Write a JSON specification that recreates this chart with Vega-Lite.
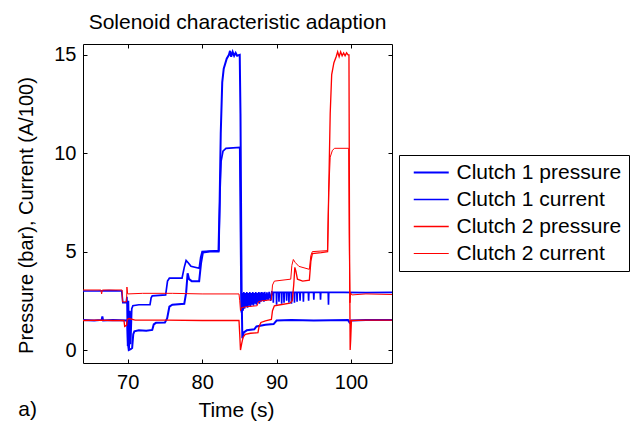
{
  "$schema": "https://vega.github.io/schema/vega-lite/v6.json",
  "autosize": {"type": "none"},
  "padding": {"left": 83, "top": 44, "right": 238, "bottom": 59},
  "width": 309,
  "height": 319,
  "background": "white",
  "title": {"text": "Solenoid characteristic adaption", "fontSize": 21, "fontWeight": "normal", "font": "Liberation Sans", "color": "black", "anchor": "middle", "baseline": "alphabetic", "offset": -6},
  "config": {
    "font": "Liberation Sans",
    "view": {"stroke": null},
    "axis": {"domainColor": "black", "tickColor": "black", "labelColor": "black", "titleColor": "black", "grid": false, "tickSize": -4, "domainWidth": 1, "tickWidth": 1, "labelFontSize": 20, "titleFontSize": 20, "titleFontWeight": "normal", "labelFont": "Liberation Sans", "titleFont": "Liberation Sans"},
    "legend": {"orient": "none", "legendX": 316, "legendY": 111, "strokeColor": "black", "strokeWidth": 1, "fillColor": "white", "padding": 7, "symbolType": "M-2,0H2", "symbolSize": 306, "symbolOffset": 14.75, "labelOffset": 14.75, "labelFontSize": 21, "labelFont": "Liberation Sans", "labelColor": "black", "rowPadding": 5, "labelLimit": 0, "cornerRadius": 0}
  },
  "layer": [
    {
      "data": {"values": [
        {"s":"Clutch 1 pressure","t":64,"v":1.52},{"s":"Clutch 1 pressure","t":65.5,"v":1.5},{"s":"Clutch 1 pressure","t":66.5,"v":1.53},{"s":"Clutch 1 pressure","t":66.6,"v":1.7},{"s":"Clutch 1 pressure","t":66.7,"v":1.5},{"s":"Clutch 1 pressure","t":68,"v":1.52},{"s":"Clutch 1 pressure","t":69.95,"v":1.5},{"s":"Clutch 1 pressure","t":70.05,"v":0.3},{"s":"Clutch 1 pressure","t":70.15,"v":0},{"s":"Clutch 1 pressure","t":70.4,"v":0.05},{"s":"Clutch 1 pressure","t":70.6,"v":0.1},{"s":"Clutch 1 pressure","t":70.75,"v":0.8},{"s":"Clutch 1 pressure","t":70.9,"v":0.95},{"s":"Clutch 1 pressure","t":71.5,"v":1.0},{"s":"Clutch 1 pressure","t":72.5,"v":0.98},{"s":"Clutch 1 pressure","t":73.3,"v":1.02},{"s":"Clutch 1 pressure","t":73.5,"v":1.3},{"s":"Clutch 1 pressure","t":73.8,"v":1.38},{"s":"Clutch 1 pressure","t":75.0,"v":1.4},{"s":"Clutch 1 pressure","t":75.3,"v":1.6},{"s":"Clutch 1 pressure","t":75.6,"v":2.2},{"s":"Clutch 1 pressure","t":76.0,"v":2.3},{"s":"Clutch 1 pressure","t":77.6,"v":2.35},{"s":"Clutch 1 pressure","t":77.85,"v":2.9},{"s":"Clutch 1 pressure","t":78.05,"v":3.9},{"s":"Clutch 1 pressure","t":78.25,"v":3.6},{"s":"Clutch 1 pressure","t":78.6,"v":3.5},{"s":"Clutch 1 pressure","t":79.6,"v":3.5},{"s":"Clutch 1 pressure","t":79.85,"v":4.4},{"s":"Clutch 1 pressure","t":80.1,"v":4.95},{"s":"Clutch 1 pressure","t":81,"v":5.0},{"s":"Clutch 1 pressure","t":82.2,"v":5.0},{"s":"Clutch 1 pressure","t":82.35,"v":7.5},{"s":"Clutch 1 pressure","t":82.5,"v":11},{"s":"Clutch 1 pressure","t":82.7,"v":13.6},{"s":"Clutch 1 pressure","t":82.9,"v":14.3},{"s":"Clutch 1 pressure","t":83.3,"v":14.8},{"s":"Clutch 1 pressure","t":83.6,"v":15.0},{"s":"Clutch 1 pressure","t":83.75,"v":15.2},{"s":"Clutch 1 pressure","t":83.9,"v":14.9},{"s":"Clutch 1 pressure","t":84.1,"v":15.15},{"s":"Clutch 1 pressure","t":84.3,"v":14.95},{"s":"Clutch 1 pressure","t":84.5,"v":15.1},{"s":"Clutch 1 pressure","t":84.7,"v":14.95},{"s":"Clutch 1 pressure","t":85.05,"v":15.0},{"s":"Clutch 1 pressure","t":85.15,"v":12.0},{"s":"Clutch 1 pressure","t":85.3,"v":3.0},{"s":"Clutch 1 pressure","t":85.4,"v":0.6},{"s":"Clutch 1 pressure","t":85.6,"v":0.9},{"s":"Clutch 1 pressure","t":86,"v":1.0},{"s":"Clutch 1 pressure","t":87,"v":1.05},{"s":"Clutch 1 pressure","t":87.3,"v":1.2},{"s":"Clutch 1 pressure","t":88.5,"v":1.28},{"s":"Clutch 1 pressure","t":89.6,"v":1.32},{"s":"Clutch 1 pressure","t":90,"v":1.5},{"s":"Clutch 1 pressure","t":92,"v":1.52},{"s":"Clutch 1 pressure","t":95,"v":1.5},{"s":"Clutch 1 pressure","t":99.6,"v":1.52},{"s":"Clutch 1 pressure","t":99.8,"v":1.4},{"s":"Clutch 1 pressure","t":100,"v":1.5},{"s":"Clutch 1 pressure","t":102,"v":1.52},{"s":"Clutch 1 pressure","t":105.5,"v":1.52},

        {"s":"Clutch 1 current","t":64,"v":3.0},{"s":"Clutch 1 current","t":66,"v":3.0},{"s":"Clutch 1 current","t":67.5,"v":3.02},{"s":"Clutch 1 current","t":69.2,"v":3.0},{"s":"Clutch 1 current","t":69.35,"v":2.4},{"s":"Clutch 1 current","t":69.8,"v":2.4},{"s":"Clutch 1 current","t":69.9,"v":2.7},{"s":"Clutch 1 current","t":70.0,"v":0.2},{"s":"Clutch 1 current","t":70.1,"v":2.5},{"s":"Clutch 1 current","t":70.2,"v":0.1},{"s":"Clutch 1 current","t":70.3,"v":2.0},{"s":"Clutch 1 current","t":70.4,"v":0.3},{"s":"Clutch 1 current","t":70.55,"v":2.1},{"s":"Clutch 1 current","t":70.7,"v":2.25},{"s":"Clutch 1 current","t":71.5,"v":2.3},{"s":"Clutch 1 current","t":73.0,"v":2.3},{"s":"Clutch 1 current","t":73.15,"v":2.65},{"s":"Clutch 1 current","t":73.3,"v":2.75},{"s":"Clutch 1 current","t":75.1,"v":2.8},{"s":"Clutch 1 current","t":75.35,"v":3.5},{"s":"Clutch 1 current","t":75.6,"v":3.65},{"s":"Clutch 1 current","t":77.3,"v":3.65},{"s":"Clutch 1 current","t":77.6,"v":4.2},{"s":"Clutch 1 current","t":77.85,"v":4.55},{"s":"Clutch 1 current","t":78.1,"v":4.45},{"s":"Clutch 1 current","t":78.5,"v":4.25},{"s":"Clutch 1 current","t":79.6,"v":4.15},{"s":"Clutch 1 current","t":79.8,"v":4.7},{"s":"Clutch 1 current","t":80.0,"v":5.0},{"s":"Clutch 1 current","t":82.25,"v":5.05},{"s":"Clutch 1 current","t":82.4,"v":8.0},{"s":"Clutch 1 current","t":82.55,"v":9.6},{"s":"Clutch 1 current","t":82.8,"v":10.1},{"s":"Clutch 1 current","t":83.2,"v":10.25},{"s":"Clutch 1 current","t":85.05,"v":10.3},{"s":"Clutch 1 current","t":85.15,"v":6.0},{"s":"Clutch 1 current","t":85.25,"v":2.0},
        {"s":"Clutch 1 current","t":85.3,"v":1.9},{"s":"Clutch 1 current","t":85.4,"v":2.9},{"s":"Clutch 1 current","t":85.5,"v":2.0},{"s":"Clutch 1 current","t":85.6,"v":2.95},{"s":"Clutch 1 current","t":85.7,"v":2.1},{"s":"Clutch 1 current","t":85.8,"v":2.9},{"s":"Clutch 1 current","t":85.9,"v":2.2},{"s":"Clutch 1 current","t":86.0,"v":2.95},{"s":"Clutch 1 current","t":86.1,"v":2.15},{"s":"Clutch 1 current","t":86.2,"v":2.9},{"s":"Clutch 1 current","t":86.3,"v":2.25},{"s":"Clutch 1 current","t":86.4,"v":2.95},{"s":"Clutch 1 current","t":86.5,"v":2.2},{"s":"Clutch 1 current","t":86.6,"v":2.9},{"s":"Clutch 1 current","t":86.7,"v":2.3},{"s":"Clutch 1 current","t":86.8,"v":2.95},{"s":"Clutch 1 current","t":86.9,"v":2.25},{"s":"Clutch 1 current","t":87.0,"v":2.9},{"s":"Clutch 1 current","t":87.1,"v":2.35},{"s":"Clutch 1 current","t":87.2,"v":2.95},{"s":"Clutch 1 current","t":87.3,"v":2.3},{"s":"Clutch 1 current","t":87.4,"v":2.9},{"s":"Clutch 1 current","t":87.5,"v":2.4},{"s":"Clutch 1 current","t":87.6,"v":2.95},{"s":"Clutch 1 current","t":87.7,"v":2.35},{"s":"Clutch 1 current","t":87.8,"v":2.92},{"s":"Clutch 1 current","t":87.9,"v":2.45},{"s":"Clutch 1 current","t":88.0,"v":2.95},{"s":"Clutch 1 current","t":88.1,"v":2.5},{"s":"Clutch 1 current","t":88.2,"v":2.92},{"s":"Clutch 1 current","t":88.3,"v":2.45},{"s":"Clutch 1 current","t":88.4,"v":2.95},{"s":"Clutch 1 current","t":88.55,"v":2.5},{"s":"Clutch 1 current","t":88.7,"v":2.93},{"s":"Clutch 1 current","t":88.85,"v":2.55},{"s":"Clutch 1 current","t":89.0,"v":2.95},{"s":"Clutch 1 current","t":89.2,"v":2.5},{"s":"Clutch 1 current","t":89.35,"v":2.95},
        {"s":"Clutch 1 current","t":89.52,"v":2.93},{"s":"Clutch 1 current","t":89.56,"v":2.4},{"s":"Clutch 1 current","t":89.6,"v":2.93},
        {"s":"Clutch 1 current","t":89.96,"v":2.93},{"s":"Clutch 1 current","t":90.0,"v":2.3},{"s":"Clutch 1 current","t":90.04,"v":2.93},
        {"s":"Clutch 1 current","t":90.28,"v":2.93},{"s":"Clutch 1 current","t":90.32,"v":2.45},{"s":"Clutch 1 current","t":90.36,"v":2.93},
        {"s":"Clutch 1 current","t":90.64,"v":2.93},{"s":"Clutch 1 current","t":90.68,"v":2.35},{"s":"Clutch 1 current","t":90.72,"v":2.93},
        {"s":"Clutch 1 current","t":90.96,"v":2.93},{"s":"Clutch 1 current","t":91.0,"v":2.4},{"s":"Clutch 1 current","t":91.04,"v":2.93},
        {"s":"Clutch 1 current","t":91.31,"v":2.93},{"s":"Clutch 1 current","t":91.35,"v":2.5},{"s":"Clutch 1 current","t":91.39,"v":2.93},
        {"s":"Clutch 1 current","t":91.62,"v":2.93},{"s":"Clutch 1 current","t":91.66,"v":2.4},{"s":"Clutch 1 current","t":91.7,"v":2.93},
        {"s":"Clutch 1 current","t":91.96,"v":2.93},{"s":"Clutch 1 current","t":92.0,"v":2.35},{"s":"Clutch 1 current","t":92.04,"v":2.93},
        {"s":"Clutch 1 current","t":92.36,"v":2.93},{"s":"Clutch 1 current","t":92.4,"v":2.4},{"s":"Clutch 1 current","t":92.44,"v":2.93},
        {"s":"Clutch 1 current","t":92.71,"v":2.93},{"s":"Clutch 1 current","t":92.75,"v":2.45},{"s":"Clutch 1 current","t":92.79,"v":2.93},
        {"s":"Clutch 1 current","t":93.11,"v":2.93},{"s":"Clutch 1 current","t":93.15,"v":2.5},{"s":"Clutch 1 current","t":93.19,"v":2.93},
        {"s":"Clutch 1 current","t":93.56,"v":2.93},{"s":"Clutch 1 current","t":93.6,"v":2.45},{"s":"Clutch 1 current","t":93.64,"v":2.93},
        {"s":"Clutch 1 current","t":94.26,"v":2.93},{"s":"Clutch 1 current","t":94.3,"v":2.5},{"s":"Clutch 1 current","t":94.34,"v":2.93},
        {"s":"Clutch 1 current","t":94.96,"v":2.93},{"s":"Clutch 1 current","t":95.0,"v":2.55},{"s":"Clutch 1 current","t":95.04,"v":2.93},
        {"s":"Clutch 1 current","t":95.86,"v":2.93},{"s":"Clutch 1 current","t":95.9,"v":2.55},{"s":"Clutch 1 current","t":95.94,"v":2.93},
        {"s":"Clutch 1 current","t":96.93,"v":2.93},{"s":"Clutch 1 current","t":96.97,"v":2.3},{"s":"Clutch 1 current","t":97.01,"v":2.93},
        {"s":"Clutch 1 current","t":99,"v":2.93},{"s":"Clutch 1 current","t":102,"v":2.92},{"s":"Clutch 1 current","t":105.5,"v":2.93},

        {"s":"Clutch 2 pressure","t":64,"v":1.5},{"s":"Clutch 2 pressure","t":66,"v":1.52},{"s":"Clutch 2 pressure","t":68,"v":1.5},{"s":"Clutch 2 pressure","t":69.5,"v":1.5},{"s":"Clutch 2 pressure","t":69.6,"v":1.2},{"s":"Clutch 2 pressure","t":69.85,"v":1.25},{"s":"Clutch 2 pressure","t":69.95,"v":1.55},{"s":"Clutch 2 pressure","t":70.2,"v":1.6},{"s":"Clutch 2 pressure","t":71,"v":1.52},{"s":"Clutch 2 pressure","t":75,"v":1.52},{"s":"Clutch 2 pressure","t":80,"v":1.5},{"s":"Clutch 2 pressure","t":84.95,"v":1.5},{"s":"Clutch 2 pressure","t":85.05,"v":0.8},{"s":"Clutch 2 pressure","t":85.15,"v":0},{"s":"Clutch 2 pressure","t":85.3,"v":0.3},{"s":"Clutch 2 pressure","t":85.5,"v":0.65},{"s":"Clutch 2 pressure","t":85.8,"v":0.8},{"s":"Clutch 2 pressure","t":86.5,"v":0.85},{"s":"Clutch 2 pressure","t":87.5,"v":0.88},{"s":"Clutch 2 pressure","t":87.65,"v":1.2},{"s":"Clutch 2 pressure","t":87.9,"v":1.4},{"s":"Clutch 2 pressure","t":88.5,"v":1.48},{"s":"Clutch 2 pressure","t":89.3,"v":1.55},{"s":"Clutch 2 pressure","t":89.45,"v":2.0},{"s":"Clutch 2 pressure","t":89.7,"v":2.25},{"s":"Clutch 2 pressure","t":90.5,"v":2.3},{"s":"Clutch 2 pressure","t":91.8,"v":2.38},{"s":"Clutch 2 pressure","t":92.1,"v":2.5},{"s":"Clutch 2 pressure","t":92.3,"v":3.3},{"s":"Clutch 2 pressure","t":92.45,"v":4.2},{"s":"Clutch 2 pressure","t":92.6,"v":4.0},{"s":"Clutch 2 pressure","t":92.8,"v":3.6},{"s":"Clutch 2 pressure","t":93.5,"v":3.5},{"s":"Clutch 2 pressure","t":94.4,"v":3.55},{"s":"Clutch 2 pressure","t":94.6,"v":4.5},{"s":"Clutch 2 pressure","t":94.8,"v":4.9},{"s":"Clutch 2 pressure","t":96,"v":4.95},{"s":"Clutch 2 pressure","t":96.85,"v":5.0},{"s":"Clutch 2 pressure","t":97.0,"v":8.0},{"s":"Clutch 2 pressure","t":97.2,"v":12.0},{"s":"Clutch 2 pressure","t":97.4,"v":14.0},{"s":"Clutch 2 pressure","t":97.7,"v":14.6},{"s":"Clutch 2 pressure","t":98.0,"v":14.9},{"s":"Clutch 2 pressure","t":98.2,"v":15.15},{"s":"Clutch 2 pressure","t":98.4,"v":14.9},{"s":"Clutch 2 pressure","t":98.6,"v":15.15},{"s":"Clutch 2 pressure","t":98.8,"v":14.95},{"s":"Clutch 2 pressure","t":99.0,"v":15.1},{"s":"Clutch 2 pressure","t":99.2,"v":14.95},{"s":"Clutch 2 pressure","t":99.4,"v":15.1},{"s":"Clutch 2 pressure","t":99.6,"v":15.0},{"s":"Clutch 2 pressure","t":99.72,"v":15.0},{"s":"Clutch 2 pressure","t":99.8,"v":5.0},{"s":"Clutch 2 pressure","t":99.88,"v":0},{"s":"Clutch 2 pressure","t":99.95,"v":0.5},{"s":"Clutch 2 pressure","t":100.05,"v":1.5},{"s":"Clutch 2 pressure","t":102,"v":1.52},{"s":"Clutch 2 pressure","t":105.5,"v":1.52},

        {"s":"Clutch 2 current","t":64,"v":3.05},{"s":"Clutch 2 current","t":66.4,"v":3.05},{"s":"Clutch 2 current","t":66.5,"v":2.85},{"s":"Clutch 2 current","t":66.6,"v":3.05},{"s":"Clutch 2 current","t":69.25,"v":3.05},{"s":"Clutch 2 current","t":69.3,"v":2.45},{"s":"Clutch 2 current","t":69.85,"v":2.45},{"s":"Clutch 2 current","t":69.9,"v":3.2},{"s":"Clutch 2 current","t":70.0,"v":2.85},{"s":"Clutch 2 current","t":72,"v":2.88},{"s":"Clutch 2 current","t":76,"v":2.88},{"s":"Clutch 2 current","t":80,"v":2.85},{"s":"Clutch 2 current","t":84.95,"v":2.85},{"s":"Clutch 2 current","t":85.05,"v":2.5},{"s":"Clutch 2 current","t":85.15,"v":2.0},{"s":"Clutch 2 current","t":85.3,"v":2.15},{"s":"Clutch 2 current","t":86,"v":2.2},{"s":"Clutch 2 current","t":87.4,"v":2.25},{"s":"Clutch 2 current","t":87.55,"v":2.45},{"s":"Clutch 2 current","t":88,"v":2.5},{"s":"Clutch 2 current","t":89.3,"v":2.55},{"s":"Clutch 2 current","t":89.45,"v":3.3},{"s":"Clutch 2 current","t":89.7,"v":3.5},{"s":"Clutch 2 current","t":91.9,"v":3.6},{"s":"Clutch 2 current","t":92.05,"v":4.3},{"s":"Clutch 2 current","t":92.25,"v":4.6},{"s":"Clutch 2 current","t":92.5,"v":4.45},{"s":"Clutch 2 current","t":93,"v":4.25},{"s":"Clutch 2 current","t":94.4,"v":4.1},{"s":"Clutch 2 current","t":94.6,"v":4.8},{"s":"Clutch 2 current","t":94.8,"v":5.0},{"s":"Clutch 2 current","t":96.85,"v":5.05},{"s":"Clutch 2 current","t":97.0,"v":8.0},{"s":"Clutch 2 current","t":97.2,"v":9.8},{"s":"Clutch 2 current","t":97.5,"v":10.15},{"s":"Clutch 2 current","t":97.8,"v":10.25},{"s":"Clutch 2 current","t":99.68,"v":10.25},{"s":"Clutch 2 current","t":99.75,"v":6.0},{"s":"Clutch 2 current","t":99.85,"v":2.4},{"s":"Clutch 2 current","t":99.95,"v":2.9},{"s":"Clutch 2 current","t":100.1,"v":2.8},{"s":"Clutch 2 current","t":102,"v":2.85},{"s":"Clutch 2 current","t":105.5,"v":2.82}
      ]},
      "mark": {"type": "line", "clip": true},
      "encoding": {
        "x": {"field": "t", "type": "quantitative", "scale": {"domain": [64, 105.5], "nice": false, "zero": false},
              "axis": {"orient": "bottom", "values": [70, 80, 90, 100], "labelPadding": 13, "title": "Time (s)", "titleX": 153, "titleY": 53, "titleBaseline": "alphabetic", "titleAlign": "center", "titleFontSize": 21}},
        "y": {"field": "v", "type": "quantitative", "scale": {"domain": [-0.66, 15.55], "nice": false, "zero": false},
              "axis": {"orient": "left", "values": [0, 5, 10, 15], "labelPadding": 11, "title": "Pressure (bar), Current (A/100)", "titleX": -51, "titleY": 171, "titleBaseline": "alphabetic", "titleAlign": "center", "titleAngle": -90}},
        "color": {"field": "s", "type": "nominal", "title": null,
                  "scale": {"domain": ["Clutch 1 pressure", "Clutch 1 current", "Clutch 2 pressure", "Clutch 2 current"], "range": ["#0000ff", "#0000ff", "#ff0000", "#ff0000"]},
                  "sort": ["Clutch 1 pressure", "Clutch 1 current", "Clutch 2 pressure", "Clutch 2 current"]},
        "strokeWidth": {"field": "s", "type": "nominal", "title": null,
                  "scale": {"domain": ["Clutch 1 pressure", "Clutch 1 current", "Clutch 2 pressure", "Clutch 2 current"], "range": [2, 1, 2, 1]}},
        "order": {"field": "t", "type": "quantitative"}
      }
    },
    {
      "data": {"values": [{"t": 64, "v": 0}]},
      "mark": {"type": "point", "opacity": 0},
      "encoding": {
        "x": {"field": "t", "type": "quantitative", "scale": {"domain": [64, 105.5], "nice": false, "zero": false},
              "axis": {"orient": "top", "values": [70, 80, 90, 100], "labels": false, "title": null}},
        "y": {"field": "v", "type": "quantitative", "scale": {"domain": [-0.66, 15.55], "nice": false, "zero": false},
              "axis": {"orient": "right", "values": [0, 5, 10, 15], "labels": false, "title": null}}
      }
    },
    {
      "data": {"values": [{"t": 64, "v": 0}]},
      "mark": {"type": "text", "text": "a)", "fontSize": 21, "font": "Liberation Sans", "color": "black", "align": "left", "baseline": "alphabetic", "clip": false},
      "encoding": {
        "x": {"datum": 55.3, "type": "quantitative", "axis": null},
        "y": {"datum": -3.36, "type": "quantitative", "axis": null}
      }
    }
  ],
  "resolve": {"axis": {"x": "independent", "y": "independent"}}
}
